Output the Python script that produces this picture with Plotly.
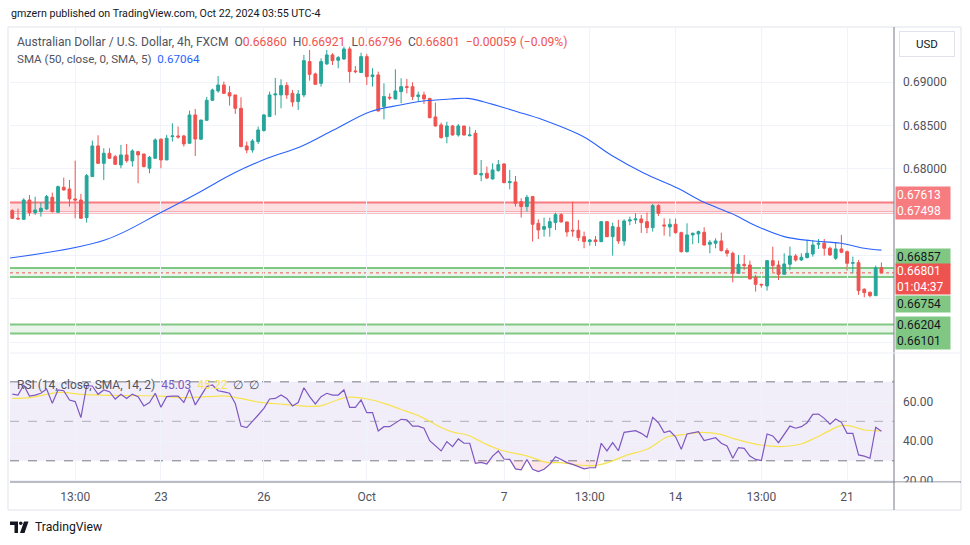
import plotly.graph_objects as go

# ---------------- data ----------------
opens = [
.67519, .67431, .67419, .67642, .67496, .67508, .67539, .67673, .67500, .67789,
.67769, .67654, .67642, .67438, .67912, .68266, .68065, .68181, .68142, .68046,
.68162, .68093, .68200, .68173, .68008, .68123, .68343, .68104, .68373, .68381,
.68381, .68296, .68623, .68343, .68562, .68792, .68900, .68969, .68880, .68854,
.68700, .68266, .68219, .68316, .68443, .68604, .68854, .68854, .68962, .68873,
.68777, .68854, .69239, .69096, .68988, .69212, .69316, .69254, .69269, .69385,
.69131, .69112, .69296, .69065, .69085, .68719, .68827, .68808, .68892, .68950,
.68950, .68835, .68854, .68815, .68600, .68508, .68373, .68496, .68392, .68496,
.68385, .68412, .67931, .67950, .67885, .67981, .68058, .67842, .67850, .67623,
.67566, .67681, .67373, .67304, .67323, .67381, .67473, .67389, .67293, .67293,
.67219, .67162, .67181, .67162, .67392, .67219, .67327, .67169, .67400, .67412,
.67423, .67392, .67323, .67577, .67354, .67331, .67362, .67265, .67046, .67239,
.67250, .67269, .67131, .67143, .67169, .67058, .67027, .66796, .66900, .66892,
.66750, .66669, .66650, .66942, .66892, .66785, .66900, .66996, .66950, .66977,
.67019, .67131, .67143, .67085, .66969, .67077, .67046, .66912, .66919, .66612,
.66577, .66538, .66860]

highs = [
.67535, .67542, .67662, .67700, .67681, .67612, .67700, .67727, .67808, .67900,
.67873, .68096, .67712, .67942, .68327, .68389, .68239, .68239, .68162, .68277,
.68289, .68227, .68208, .68173, .68150, .68354, .68354, .68393, .68527, .68489,
.68393, .68673, .68692, .68565, .68831, .68927, .69073, .69008, .68958, .68854,
.68827, .68316, .68343, .68489, .68635, .68892, .69050, .69035, .69000, .68912,
.68912, .69316, .69373, .69112, .69277, .69373, .69335, .69304, .69411, .69411,
.69188, .69342, .69327, .69162, .69123, .68988, .68873, .69150, .69046, .69038,
.69000, .68892, .68892, .68815, .68765, .68535, .68546, .68508, .68519, .68496,
.68489, .68450, .68104, .68027, .68066, .68104, .68065, .67989, .67919, .67662,
.67700, .67689, .67419, .67439, .67439, .67496, .67489, .67389, .67623, .67412,
.67277, .67192, .67227, .67400, .67400, .67381, .67412, .67419, .67450, .67489,
.67469, .67496, .67596, .67593, .67431, .67427, .67427, .67277, .67373, .67266,
.67289, .67327, .67181, .67200, .67265, .67085, .67046, .67008, .67008, .66942,
.66777, .66673, .66950, .67104, .66942, .67027, .67104, .67019, .67027, .67181,
.67181, .67192, .67192, .67104, .67154, .67239, .67058, .66989, .66950, .66623,
.66585, .66885, .66921]

lows = [
.67423, .67419, .67412, .67458, .67469, .67450, .67527, .67496, .67496, .67750,
.67566, .67431, .67423, .67381, .67912, .68058, .67873, .68116, .68046, .68008,
.68073, .68027, .67835, .68019, .67950, .68116, .68008, .68104, .68316, .68350,
.68258, .68296, .68150, .68335, .68554, .68785, .68880, .68865, .68731, .68635,
.68250, .68181, .68188, .68289, .68431, .68604, .68619, .68700, .68808, .68719,
.68681, .68827, .69019, .68969, .68950, .69200, .69200, .69162, .69258, .68996,
.69104, .69112, .68969, .68950, .68662, .68573, .68796, .68804, .68758, .68873,
.68796, .68777, .68750, .68585, .68489, .68350, .68296, .68385, .68373, .68385,
.68373, .67931, .67858, .67885, .67877, .67969, .67835, .67765, .67566, .67439,
.67508, .67162, .67192, .67219, .67219, .67296, .67381, .67219, .67219, .67169,
.67085, .67115, .67112, .67154, .67212, .67000, .67135, .67115, .67350, .67366,
.67262, .67258, .67277, .67458, .67231, .67219, .67254, .67035, .67035, .67131,
.67143, .67115, .67027, .67085, .67046, .66989, .66692, .66788, .66835, .66727,
.66585, .66631, .66596, .66812, .66719, .66777, .66835, .66931, .66938, .66969,
.66989, .67077, .67000, .66996, .66950, .67027, .66827, .66796, .66546, .66519,
.66519, .66538, .66796]

closes = [
.67431, .67423, .67642, .67496, .67527, .67546, .67681, .67508, .67796, .67758,
.67654, .67642, .67431, .67923, .68266, .68065, .68181, .68123, .68054, .68162,
.68096, .68208, .68162, .68027, .68135, .68335, .68104, .68354, .68381, .68369,
.68289, .68623, .68346, .68565, .68792, .68911, .68969, .68873, .68842, .68700,
.68258, .68219, .68323, .68450, .68623, .68854, .68865, .68962, .68854, .68773,
.68865, .69250, .69092, .68977, .69239, .69316, .69250, .69285, .69385, .69123,
.69123, .69296, .69065, .69085, .68669, .68835, .68819, .68900, .68950, .68942,
.68835, .68854, .68808, .68592, .68496, .68362, .68496, .68392, .68496, .68392,
.68392, .67939, .67946, .67896, .67989, .68050, .67842, .67854, .67604, .67566,
.67673, .67362, .67296, .67335, .67392, .67473, .67389, .67273, .67285, .67208,
.67162, .67181, .67162, .67392, .67219, .67335, .67169, .67400, .67412, .67423,
.67381, .67323, .67577, .67489, .67343, .67362, .67265, .67046, .67239, .67258,
.67277, .67123, .67154, .67169, .67058, .67027, .66796, .66900, .66885, .66731,
.66669, .66662, .66942, .66885, .66785, .66904, .66996, .66950, .66981, .67027,
.67123, .67143, .67085, .67008, .67077, .67039, .66912, .66919, .66596, .66573,
.66538, .66860, .66801]

bars = list(range(len(closes)))

# SMA(50) line read at sample bars
sma_x = [-0.4, 16.2, 25.9, 32.9, 38.7, 44.6, 50.4, 56.2, 62.6, 67.9, 71.9, 76.6, 79.6,
         82.4, 88.3, 92.9, 99.9, 104.7, 110.5, 116.4, 121.0, 125.7, 130.4, 135.0,
         139.7, 144.9, 149.0, 152]
sma_y = [0.66973, 0.67180, 0.67495, 0.67738, 0.67950, 0.68123, 0.68257, 0.68450, 0.68661,
         0.68738, 0.68784, 0.68807, 0.68815, 0.68776, 0.68661, 0.68565, 0.68372, 0.68161,
         0.67950, 0.67777, 0.67615, 0.67488, 0.67334, 0.67219, 0.67172, 0.67142, 0.67085,
         0.67064]

rsi = [
63.8, 63.3, 68.4, 62.8, 63.3, 64.2, 66.4, 59.1, 65.9, 65.5,
60.8, 60.0, 51.9, 67.9, 67.9, 63.7, 65.9, 65.0, 61.3, 63.7,
61.6, 63.8, 62.5, 57.8, 59.5, 64.2, 57.1, 62.5, 62.8, 62.8,
59.6, 66.2, 58.3, 62.8, 67.6, 68.4, 65.5, 64.9, 64.2, 59.1,
47.6, 46.8, 49.8, 53.2, 56.6, 61.3, 61.6, 63.3, 61.6, 57.8,
59.5, 67.0, 62.5, 58.8, 62.5, 64.2, 63.3, 63.3, 65.9, 57.1,
57.1, 60.8, 54.4, 54.4, 45.1, 47.3, 47.3, 49.3,
51.0, 50.7, 47.6, 47.6, 46.5, 40.2, 37.5, 35.0, 39.7, 37.2,
41.1, 38.9, 38.9, 28.7, 29.2, 28.4, 32.4, 35.0, 30.9, 30.7,
25.9, 25.4, 30.7, 25.7, 24.5, 25.7, 28.2, 32.1, 30.7, 29.1,
28.2, 27.0, 25.9, 26.5, 26.5, 38.9, 35.0, 39.2, 35.1, 44.4,
44.8, 45.3, 43.9, 41.9, 52.0, 49.3, 44.3, 45.1, 42.2, 35.8,
43.6, 44.3, 44.8, 40.2, 41.1, 41.7, 38.9, 37.5, 31.3, 36.7,
36.3, 32.4, 30.7, 30.1, 43.6, 42.6, 39.2, 43.4, 47.6, 46.5,
47.3, 49.3, 53.5, 53.7, 51.5, 48.6, 51.2, 49.5, 43.9, 43.9,
33.0, 32.4, 31.3, 47.0, 45.03]

rsi_ma_x = [0, 3.1, 5.4, 8.4, 11.9, 15.4, 21.2, 25.9, 29.9, 34.0, 37.5, 39.9, 43.4, 47.5,
            50.4, 53.9, 56.8, 58.6, 62.1, 65.0, 67.9, 71.4, 74.9, 77.2, 79.6, 82.5, 85.4,
            90.1, 93.6, 95.9, 98.8, 101.8, 104.1, 107.6, 111.1, 114.6, 117.0, 120.4, 123.9,
            126.3, 130.9, 134.4, 137.9, 140.3, 142.6, 144.9, 146.7, 149.0, 152]
rsi_ma_y = [61.6, 62.0, 63.3, 64.7, 63.7, 63.3, 63.0, 62.8, 62.0, 62.5, 62.8, 61.6, 59.6, 58.6,
            57.8, 57.8, 60.8, 62.2, 61.3, 59.1, 56.1, 52.4, 47.0, 44.4, 43.1, 38.9, 35.5,
            32.4, 29.1, 29.1, 27.9, 27.6, 29.1, 33.0, 36.0, 42.2, 43.1, 44.4, 43.4,
            41.1, 38.0, 37.2, 38.5, 41.4, 44.8, 47.8, 47.6, 45.6, 45.22]

tick_bars = [11, 26, 44, 62, 86, 101, 116, 131, 146]
tick_labels = ["13:00", "23", "26", "Oct", "7", "13:00", "14", "13:00", "21"]

red_zone = [0.67613, 0.67498]
green_zone_1 = [0.66857, 0.66754]
green_zone_2 = [0.66204, 0.66101]
last_price = 0.66801
price_ticks = [0.660, 0.665, 0.670, 0.675, 0.680, 0.685, 0.690]
price_tick_text = ["", "", "", "", "0.68000", "0.68500", "0.69000"]

# ---------------- layout helpers (pixel -> paper) ----------------
W, H = 970, 545
L, R, T, B = 10, 894, 27, 482


def px(x):
    return (x - L) / (R - L)


def py(y):
    return (B - y) / (B - T)


PRICE_BOTTOM_PX = 352
RSI_TOP_PX = 354
FONT = "Roboto, 'Noto Sans', sans-serif"
TXT = "#50535e"
GRID = "#f0f3fa"
UP = "#26a69a"
DOWN = "#ef5350"

fig = go.Figure()

fig.add_trace(go.Candlestick(
    x=bars, open=opens, high=highs, low=lows, close=closes,
    increasing=dict(line=dict(color=UP, width=1), fillcolor=UP),
    decreasing=dict(line=dict(color=DOWN, width=1), fillcolor=DOWN),
    xaxis="x", yaxis="y", hoverinfo="skip", showlegend=False))

fig.add_trace(go.Scatter(x=sma_x, y=sma_y, mode="lines", line=dict(color="#2962ff", width=1.1, shape="spline"),
                         xaxis="x", yaxis="y", hoverinfo="skip", showlegend=False))

# RSI oversold fill
rsi_low = [min(v, 30) for v in rsi]
fig.add_trace(go.Scatter(x=bars, y=[30] * len(bars), mode="lines", line=dict(width=0),
                         xaxis="x2", yaxis="y2", hoverinfo="skip", showlegend=False))
fig.add_trace(go.Scatter(x=bars, y=rsi_low, mode="lines", line=dict(width=0), fill="tonexty",
                         fillcolor="rgba(242,54,69,0.12)",
                         xaxis="x2", yaxis="y2", hoverinfo="skip", showlegend=False))
fig.add_trace(go.Scatter(x=rsi_ma_x, y=rsi_ma_y, mode="lines", line=dict(color="#f7e34f", width=1.2, shape="spline"),
                         xaxis="x2", yaxis="y2", hoverinfo="skip", showlegend=False))
fig.add_trace(go.Scatter(x=bars, y=rsi, mode="lines", line=dict(color="#7e57c2", width=1.2),
                         xaxis="x2", yaxis="y2", hoverinfo="skip", showlegend=False))

shapes = []
# frame
shapes.append(dict(type="rect", xref="paper", yref="paper", x0=px(8), x1=px(961), y0=py(510), y1=py(27),
                   line=dict(color="#e0e3eb", width=1), fillcolor="rgba(0,0,0,0)", layer="below"))
# price zones
shapes.append(dict(type="rect", xref="paper", yref="y", x0=0, x1=1, y0=red_zone[1], y1=red_zone[0],
                   fillcolor="rgba(242,54,69,0.16)", line=dict(width=0), layer="below"))
for v in red_zone:
    shapes.append(dict(type="line", xref="paper", yref="y", x0=0, x1=1, y0=v, y1=v,
                       line=dict(color="#f77c80", width=2), layer="below"))
for z in (green_zone_1, green_zone_2):
    shapes.append(dict(type="rect", xref="paper", yref="y", x0=0, x1=1, y0=z[1], y1=z[0],
                       fillcolor="rgba(76,175,80,0.12)", line=dict(width=0), layer="below"))
    for v in z:
        shapes.append(dict(type="line", xref="paper", yref="y", x0=0, x1=1, y0=v, y1=v,
                           line=dict(color="#81c784", width=2), layer="below"))
shapes.append(dict(type="line", xref="paper", yref="y", x0=0, x1=1, y0=last_price, y1=last_price,
                   line=dict(color=DOWN, width=1, dash="dot"), layer="below"))
# RSI band
shapes.append(dict(type="rect", xref="paper", yref="y2", x0=0, x1=1, y0=30, y1=70,
                   fillcolor="rgba(126,87,194,0.1)", line=dict(width=0), layer="below"))
for lv, col in ((70, "#787b86"), (50, "rgba(120,123,134,0.55)"), (30, "#787b86")):
    shapes.append(dict(type="line", xref="paper", yref="y2", x0=0, x1=1, y0=lv, y1=lv,
                       line=dict(color=col, width=1, dash="dash"), layer="below"))
# separators
shapes.append(dict(type="line", xref="paper", yref="paper", x0=px(10), x1=px(961), y0=py(482), y1=py(482),
                   line=dict(color="#787b86", width=1)))
shapes.append(dict(type="line", xref="paper", yref="paper", x0=px(894), x1=px(894), y0=py(510), y1=py(27),
                   line=dict(color="#787b86", width=1)))
shapes.append(dict(type="line", xref="paper", yref="paper", x0=px(10), x1=px(961), y0=py(353), y1=py(353),
                   line=dict(color="#eef0f5", width=1)))
# cover for clipped 20.00 label
shapes.append(dict(type="rect", xref="paper", yref="paper", x0=px(895), x1=px(960), y0=py(509), y1=py(482.5),
                   fillcolor="white", line=dict(width=0), layer="above"))
# TradingView logo mark
shapes.append(dict(type="path", xref="paper", yref="paper",
                   path=f"M {px(10)} {py(521.5)} L {px(18)} {py(521.5)} L {px(18)} {py(533)} L {px(14.5)} {py(533)} "
                        f"L {px(14.5)} {py(525)} L {px(10)} {py(525)} Z",
                   fillcolor="#131722", line=dict(width=0)))
shapes.append(dict(type="circle", xref="paper", yref="paper", x0=px(19), x1=px(22.5), y0=py(525), y1=py(521.5),
                   fillcolor="#131722", line=dict(width=0)))
shapes.append(dict(type="path", xref="paper", yref="paper",
                   path=f"M {px(24)} {py(521.5)} L {px(28.5)} {py(521.5)} L {px(24.5)} {py(533)} L {px(20)} {py(533)} Z",
                   fillcolor="#131722", line=dict(width=0)))

ann = []
ann.append(dict(xref="paper", yref="paper", x=px(9), y=py(13), xanchor="left", yanchor="middle",
                text="gmzern published on TradingView.com, Oct 22, 2024 03:55 UTC-4",
                showarrow=False, font=dict(family=FONT, size=10.7, color="#131722")))
red = DOWN
ann.append(dict(xref="paper", yref="paper", x=px(15), y=py(42), xanchor="left", yanchor="middle",
                text=(f"Australian Dollar / U.S. Dollar, 4h, FXCM  O<span style='color:{red}'>0.66860</span>  "
                      f"H<span style='color:{red}'>0.66921</span>  L<span style='color:{red}'>0.66796</span>  "
                      f"C<span style='color:{red}'>0.66801</span>  <span style='color:{red}'>−0.00059 (−0.09%)</span>"),
                showarrow=False, font=dict(family=FONT, size=12.1, color=TXT)))
ann.append(dict(xref="paper", yref="paper", x=px(15), y=py(59), xanchor="left", yanchor="middle",
                text="SMA (50, close, 0, SMA, 5)  <span style='color:#2962ff'>0.67064</span>",
                showarrow=False, font=dict(family=FONT, size=11.6, color=TXT)))
ann.append(dict(xref="paper", yref="paper", x=px(15), y=py(385), xanchor="left", yanchor="middle",
                text=("RSI (14, close, SMA, 14, 2)  <span style='color:#7e57c2'>45.03</span>  "
                      "<span style='color:#f7e34f'>45.22</span>  ∅  ∅"),
                showarrow=False, font=dict(family=FONT, size=12, color=TXT)))
ann.append(dict(xref="paper", yref="paper", x=px(33), y=py(527), xanchor="left", yanchor="middle",
                text="TradingView", showarrow=False, font=dict(family=FONT, size=12.2, color="#131722")))
# USD button
ann.append(dict(xref="paper", yref="paper", x=px(927), y=py(44), xanchor="center", yanchor="middle",
                text="USD", showarrow=False, width=52, height=22, bgcolor="white",
                bordercolor="#e0e3eb", borderwidth=1, font=dict(family=FONT, size=11.5, color="#131722")))

# price labels on the right axis
def price_label(y, text, bg, fg, shift, h):
    ann.append(dict(xref="paper", yref="y", x=px(895), y=y, xanchor="left", yanchor="middle",
                    text=text, showarrow=False, bgcolor=bg, width=52, height=h, align="left",
                    yshift=shift, borderpad=1, font=dict(family=FONT, size=12, color=fg)))

price_label(sum(red_zone) / 2, f"{red_zone[0]:.5f}<br>{red_zone[1]:.5f}", "#f77c80", "white", 4, 30)
price_label(green_zone_1[0], f"{green_zone_1[0]:.5f}", "#81c784", "#131722", 11.5, 14)
price_label(last_price, f"{last_price:.5f}<br>01:04:37", DOWN, "white", -6.5, 28)
price_label(green_zone_1[1], f"{green_zone_1[1]:.5f}", "#81c784", "#131722", -27.5, 14)
price_label(sum(green_zone_2) / 2, f"{green_zone_2[0]:.5f}<br>{green_zone_2[1]:.5f}", "#81c784", "#131722", -4, 30)

fig.update_layout(
    width=W, height=H, margin=dict(l=L, r=W - R, t=T, b=H - B),
    paper_bgcolor="white", plot_bgcolor="white", showlegend=False,
    shapes=shapes, annotations=ann, hovermode=False,
    xaxis=dict(domain=[0, 1], anchor="y", range=[-0.4, 154.2], tickvals=tick_bars, showticklabels=False,
               showgrid=True, gridcolor=GRID, zeroline=False, rangeslider=dict(visible=False), fixedrange=True),
    yaxis=dict(domain=[py(PRICE_BOTTOM_PX), 1], anchor="x", side="right", range=[0.65888, 0.69638],
               tickvals=price_ticks, ticktext=price_tick_text, showgrid=True, gridcolor=GRID,
               zeroline=False, ticks="", ticklabelstandoff=8,
               tickfont=dict(family=FONT, size=12, color=TXT), fixedrange=True),
    xaxis2=dict(domain=[0, 1], anchor="y2", matches="x", range=[-0.4, 154.2], tickvals=tick_bars,
                ticktext=tick_labels, showgrid=True, gridcolor=GRID, zeroline=False, ticks="",
                ticklabelstandoff=6, tickfont=dict(family=FONT, size=12, color=TXT), fixedrange=True),
    yaxis2=dict(domain=[0, py(RSI_TOP_PX)], anchor="x2", side="right", range=[19.27, 84.1],
                tickvals=[20, 40, 60], ticktext=["20.00", "40.00", "60.00"], showgrid=True, gridcolor=GRID,
                zeroline=False, ticks="", ticklabelstandoff=8,
                tickfont=dict(family=FONT, size=12, color=TXT), fixedrange=True),
)

fig.write_html("out.html", config={"displayModeBar": False},
               post_script="document.body.style.margin='0';document.body.style.overflow='hidden';")
